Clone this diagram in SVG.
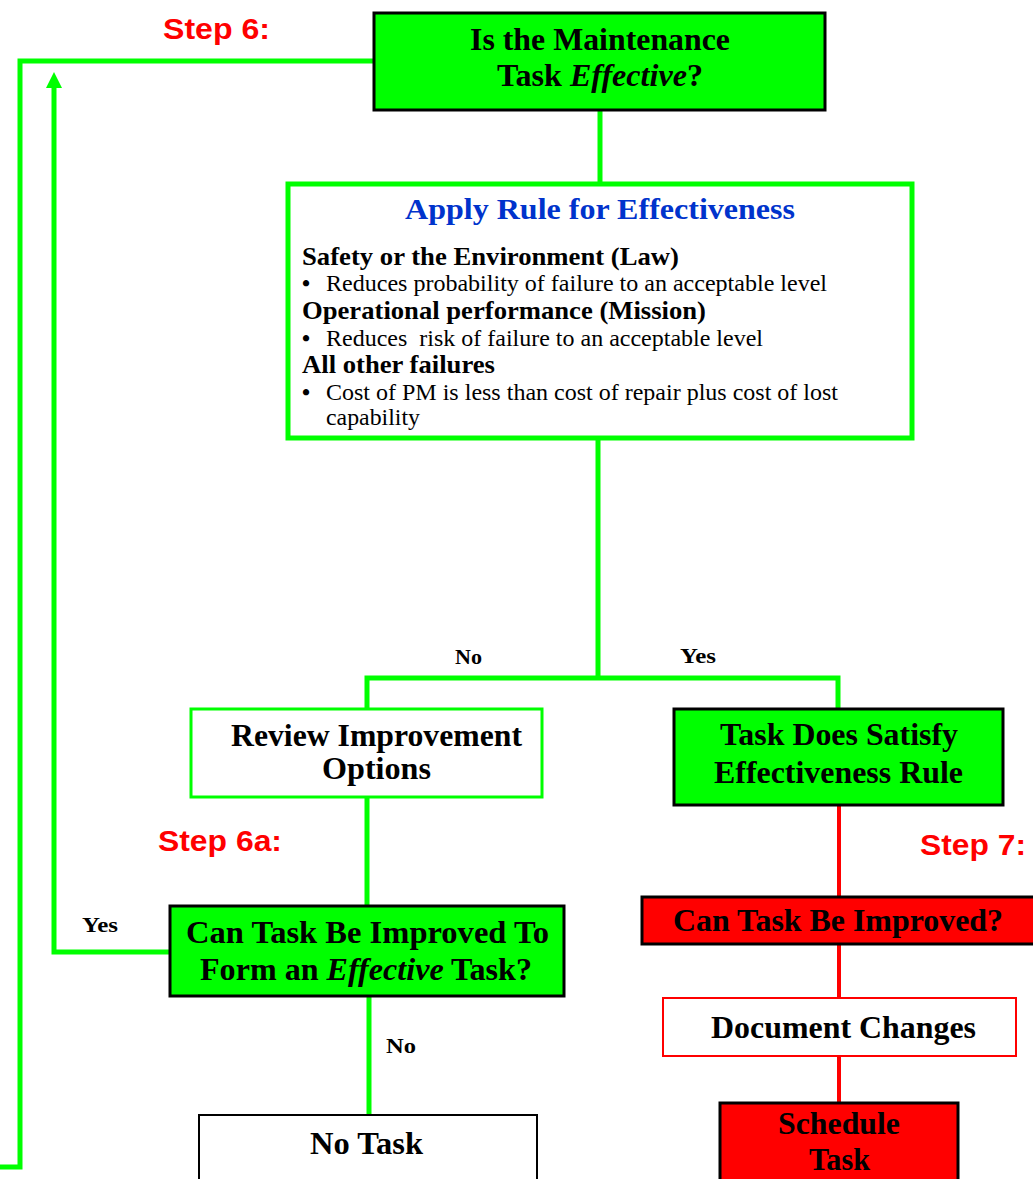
<svg xmlns="http://www.w3.org/2000/svg" width="1033" height="1179" viewBox="0 0 1033 1179">
<style>
.t{font-family:"Liberation Serif","Times New Roman",serif;font-weight:bold;fill:#000}
.big{font-size:31px}
.step{font-family:"Liberation Sans",Arial,sans-serif;font-weight:bold;font-size:30px;fill:#ff0000}
.lbl{font-family:"Liberation Serif","Times New Roman",serif;font-weight:bold;font-size:22px;fill:#000}
.hd{font-size:25px}
.bl{font-family:"Liberation Serif","Times New Roman",serif;font-size:23px;fill:#000}
.bu{font-family:"Liberation Serif","Times New Roman",serif;font-size:23px;font-weight:bold;fill:#000}
.g{stroke:#00ff00;stroke-width:5;fill:none}
.r{stroke:#ff0000;stroke-width:4;fill:none}
</style>
<rect width="1033" height="1179" fill="#fff"/>
<g id="connectors">
<polyline class="g" points="374,61 20,61 20,1167 0,1167"/>
<polyline class="g" points="170,952 54,952 54,86"/>
<path d="M46,88 L54,72 L62,88 Z" fill="#00ff00"/>
<line class="g" x1="600" y1="110" x2="600" y2="184"/>
<line class="g" x1="598" y1="438" x2="598" y2="678"/>
<polyline class="g" points="367,709 367,678 838,678 838,709"/>
<line class="g" x1="367" y1="797" x2="367" y2="906"/>
<line class="g" x1="369" y1="996" x2="369" y2="1115"/>
<line class="r" x1="839" y1="806" x2="839" y2="897"/>
<line class="r" x1="839" y1="944" x2="839" y2="998"/>
<line class="r" x1="839" y1="1056" x2="839" y2="1103"/>
<text class="lbl" x="455" y="664" textLength="27" lengthAdjust="spacingAndGlyphs">No</text>
<text class="lbl" x="680" y="663" textLength="36" lengthAdjust="spacingAndGlyphs">Yes</text>
<text class="lbl" x="82" y="932" textLength="36" lengthAdjust="spacingAndGlyphs">Yes</text>
<text class="lbl" x="386" y="1053" textLength="30" lengthAdjust="spacingAndGlyphs">No</text>
</g>
<g id="labels">
<text class="step" x="163" y="39" textLength="107" lengthAdjust="spacingAndGlyphs">Step 6:</text>
<text class="step" x="158" y="851" textLength="124" lengthAdjust="spacingAndGlyphs">Step 6a:</text>
<text class="step" x="920" y="855" textLength="106" lengthAdjust="spacingAndGlyphs">Step 7:</text>
</g>
<g id="n-effective">
<rect x="374" y="13" width="451" height="97" fill="#00ff00" stroke="#000" stroke-width="3"/>
<text class="t big" x="470" y="50" textLength="260" lengthAdjust="spacingAndGlyphs">Is the Maintenance</text>
<text class="t big" x="497" y="86" textLength="206" lengthAdjust="spacingAndGlyphs">Task <tspan font-style="italic">Effective</tspan>?</text>
</g>
<g id="n-rule">
<rect x="288" y="184" width="624" height="254" fill="#fff" stroke="#00ff00" stroke-width="5"/>
<text class="t" x="405" y="219" style="font-size:30px;fill:#0033cc" textLength="390" lengthAdjust="spacingAndGlyphs">Apply Rule for Effectiveness</text>
<text class="t hd" x="302" y="265" textLength="377" lengthAdjust="spacingAndGlyphs">Safety or the Environment (Law)</text>
<text class="bu" x="302" y="291">•</text>
<text class="bl" x="326" y="291" textLength="501" lengthAdjust="spacingAndGlyphs">Reduces probability of failure to an acceptable level</text>
<text class="t hd" x="302" y="319" textLength="404" lengthAdjust="spacingAndGlyphs">Operational performance (Mission)</text>
<text class="bu" x="302" y="346">•</text>
<text class="bl" x="326" y="346" xml:space="preserve" textLength="437" lengthAdjust="spacingAndGlyphs">Reduces  risk of failure to an acceptable level</text>
<text class="t hd" x="302" y="373" textLength="193" lengthAdjust="spacingAndGlyphs">All other failures</text>
<text class="bu" x="302" y="400">•</text>
<text class="bl" x="326" y="400" textLength="512" lengthAdjust="spacingAndGlyphs">Cost of PM is less than cost of repair plus cost of lost</text>
<text class="bl" x="326" y="425" textLength="94" lengthAdjust="spacingAndGlyphs">capability</text>
</g>
<g id="n-review">
<rect x="191" y="709" width="351" height="88" fill="#fff" stroke="#00ff00" stroke-width="3"/>
<text class="t big" x="231" y="746" textLength="291" lengthAdjust="spacingAndGlyphs">Review Improvement</text>
<text class="t big" x="322" y="779" textLength="109" lengthAdjust="spacingAndGlyphs">Options</text>
</g>
<g id="n-satisfy">
<rect x="674" y="709" width="329" height="96" fill="#00ff00" stroke="#000" stroke-width="3"/>
<text class="t big" x="720" y="745" textLength="238" lengthAdjust="spacingAndGlyphs">Task Does Satisfy</text>
<text class="t big" x="714" y="783" textLength="249" lengthAdjust="spacingAndGlyphs">Effectiveness Rule</text>
</g>
<g id="n-canimprove-to">
<rect x="170" y="906" width="394" height="90" fill="#00ff00" stroke="#000" stroke-width="3"/>
<text class="t big" x="186" y="943" textLength="363" lengthAdjust="spacingAndGlyphs">Can Task Be Improved To</text>
<text class="t big" x="200" y="980" textLength="332" lengthAdjust="spacingAndGlyphs">Form an <tspan font-style="italic">Effective</tspan> Task?</text>
</g>
<g id="n-notask">
<rect x="199" y="1115" width="338" height="70" fill="#fff" stroke="#000" stroke-width="2"/>
<text class="t big" x="310" y="1154" textLength="113" lengthAdjust="spacingAndGlyphs">No Task</text>
</g>
<g id="n-canimprove">
<rect x="642" y="897" width="400" height="47" fill="#ff0000" stroke="#000" stroke-width="3"/>
<text class="t big" x="673" y="931" textLength="330" lengthAdjust="spacingAndGlyphs">Can Task Be Improved?</text>
</g>
<g id="n-document">
<rect x="663" y="998" width="353" height="58" fill="#fff" stroke="#ff0000" stroke-width="2"/>
<text class="t big" x="711" y="1038" textLength="265" lengthAdjust="spacingAndGlyphs">Document Changes</text>
</g>
<g id="n-schedule">
<rect x="720" y="1103" width="238" height="85" fill="#ff0000" stroke="#000" stroke-width="3"/>
<text class="t big" x="778" y="1134" textLength="122" lengthAdjust="spacingAndGlyphs">Schedule</text>
<text class="t big" x="809" y="1170" textLength="61" lengthAdjust="spacingAndGlyphs">Task</text>
</g>
</svg>
